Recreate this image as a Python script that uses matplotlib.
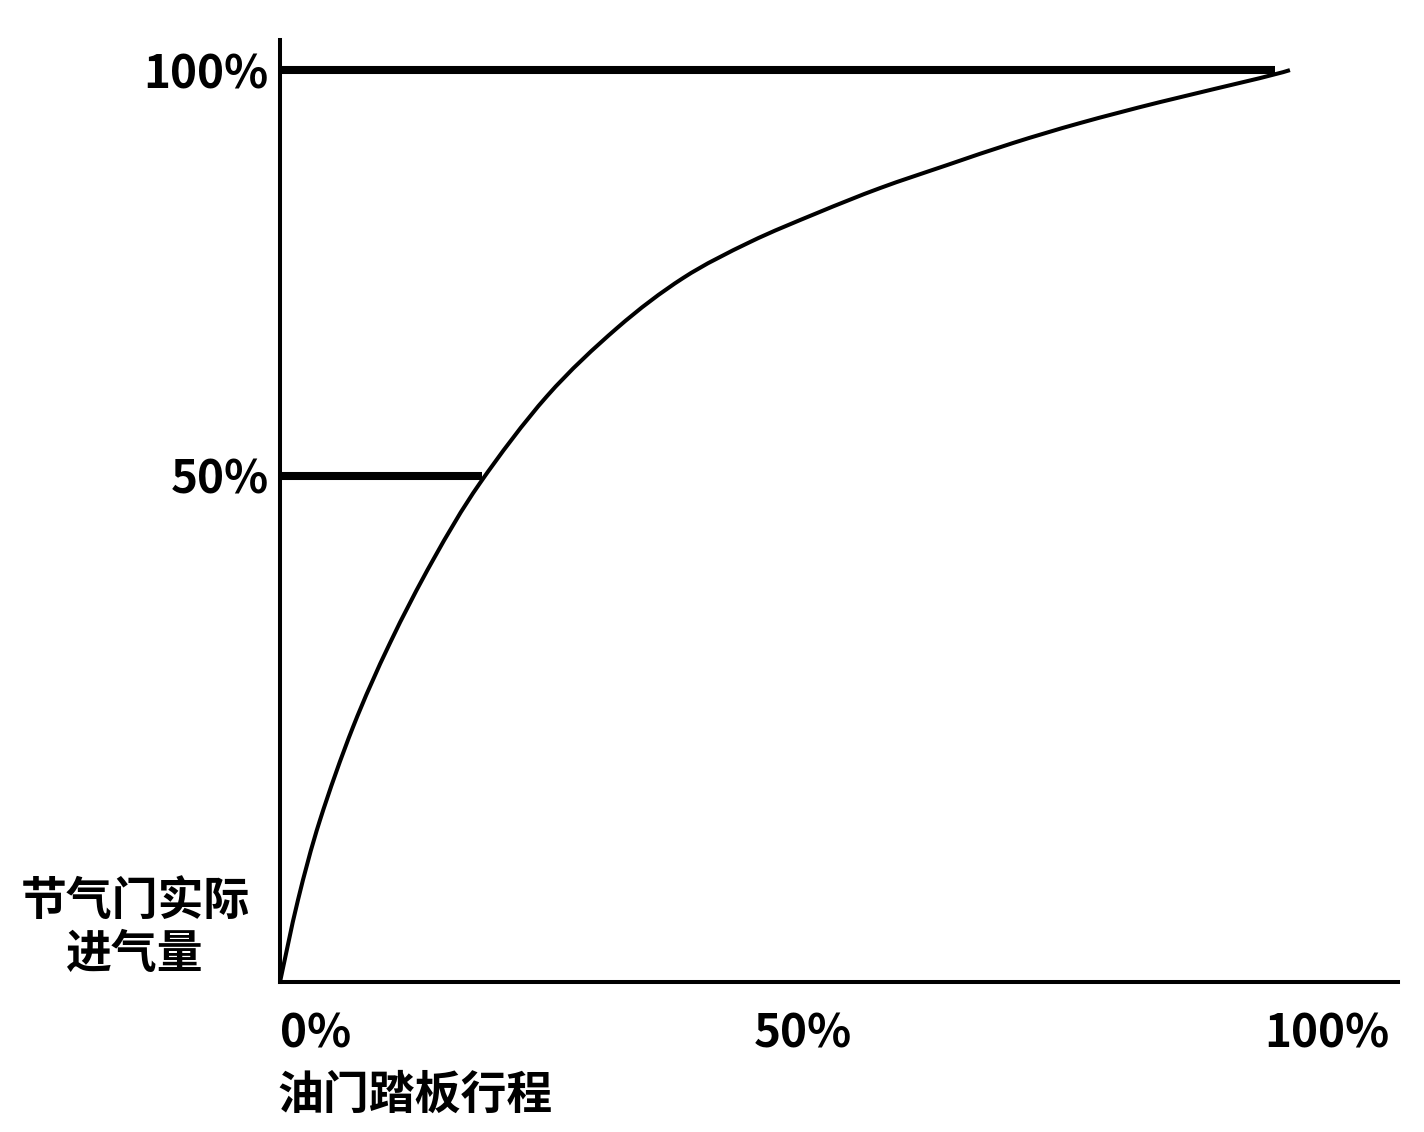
import matplotlib
matplotlib.use("Agg")
import matplotlib.pyplot as plt
from matplotlib.path import Path
from matplotlib.patches import PathPatch
import numpy as np

plt.rcParams['font.family'] = ['Noto Sans CJK SC', 'DejaVu Sans']

# throttle response curve (pedal % -> airflow %)
pedal   = [0, 1.78, 3.96, 7.23, 10.89, 15.15, 19.80, 26.44, 33.37, 39.90, 46.53,
           53.17, 59.41, 66.04, 72.57, 79.21, 87.13, 97.03, 100]
airflow = [0, 8.99, 17.76, 27.96, 37.17, 46.27, 54.71, 64.25, 71.71, 77.19, 81.14,
           84.32, 87.06, 89.58, 92.00, 94.19, 96.49, 99.12, 100]

# reference levels (drawn as thick horizontal bars)
level_full = 100
level_full_end = 98.5
level_half = 55.5
level_half_end = 20.0

x_tick_pos = [0, 51.8, 103.7]
x_tick_labels = ["0%", "50%", "100%"]
y_tick_pos = [level_half, level_full]
y_tick_labels = ["50%", "100%"]


def smooth_path(xs, ys):
    # catmull-rom through the read points, as cubic bezier segments
    p = np.column_stack([xs, ys])
    verts = [p[0]]
    codes = [Path.MOVETO]
    for i in range(len(p) - 1):
        p0 = p[i - 1] if i > 0 else p[i]
        p3 = p[i + 2] if i + 2 < len(p) else p[i + 1]
        c1 = p[i] + (p[i + 1] - p0) / 6
        c2 = p[i + 1] - (p3 - p[i]) / 6
        verts += [c1, c2, p[i + 1]]
        codes += [Path.CURVE4] * 3
    return Path(verts, codes)


fig = plt.figure(figsize=(14.24, 11.32), dpi=100)
ax = fig.add_axes([280/1424, 1 - 982/1132, 1118/1424, 942/1132])

ax.add_patch(PathPatch(smooth_path(pedal, airflow), fill=False, edgecolor='black', lw=2.9))
ax.plot([0, level_full_end], [level_full, level_full], color='black', lw=5.8, solid_capstyle='butt')
ax.plot([0, level_half_end], [level_half, level_half], color='black', lw=5.8, solid_capstyle='butt')

ax.set_xlim(0, 110.7)
ax.set_ylim(0, 103.3)

for s in ['top', 'right']:
    ax.spines[s].set_visible(False)
for s in ['left', 'bottom']:
    ax.spines[s].set_linewidth(2.9)

ax.set_xticks(x_tick_pos, x_tick_labels)
ax.set_yticks(y_tick_pos, y_tick_labels)
ax.tick_params(axis='both', length=0, labelsize=33)
ax.tick_params(axis='x', pad=21)
ax.tick_params(axis='y', pad=8)
for lab in ax.get_xticklabels() + ax.get_yticklabels():
    lab.set_fontweight('bold')
ax.get_xticklabels()[0].set_ha('left')

ax.text(-0.1297, 0.057, "节气门实际\n进气量", transform=ax.transAxes, ha='center', va='center',
        fontsize=33, fontweight='bold', linespacing=1.2)
ax.text(-0.002, -0.121, "油门踏板行程", transform=ax.transAxes, ha='left', va='center',
        fontsize=33, fontweight='bold')

fig.savefig("out.png", dpi=100, facecolor='white')
